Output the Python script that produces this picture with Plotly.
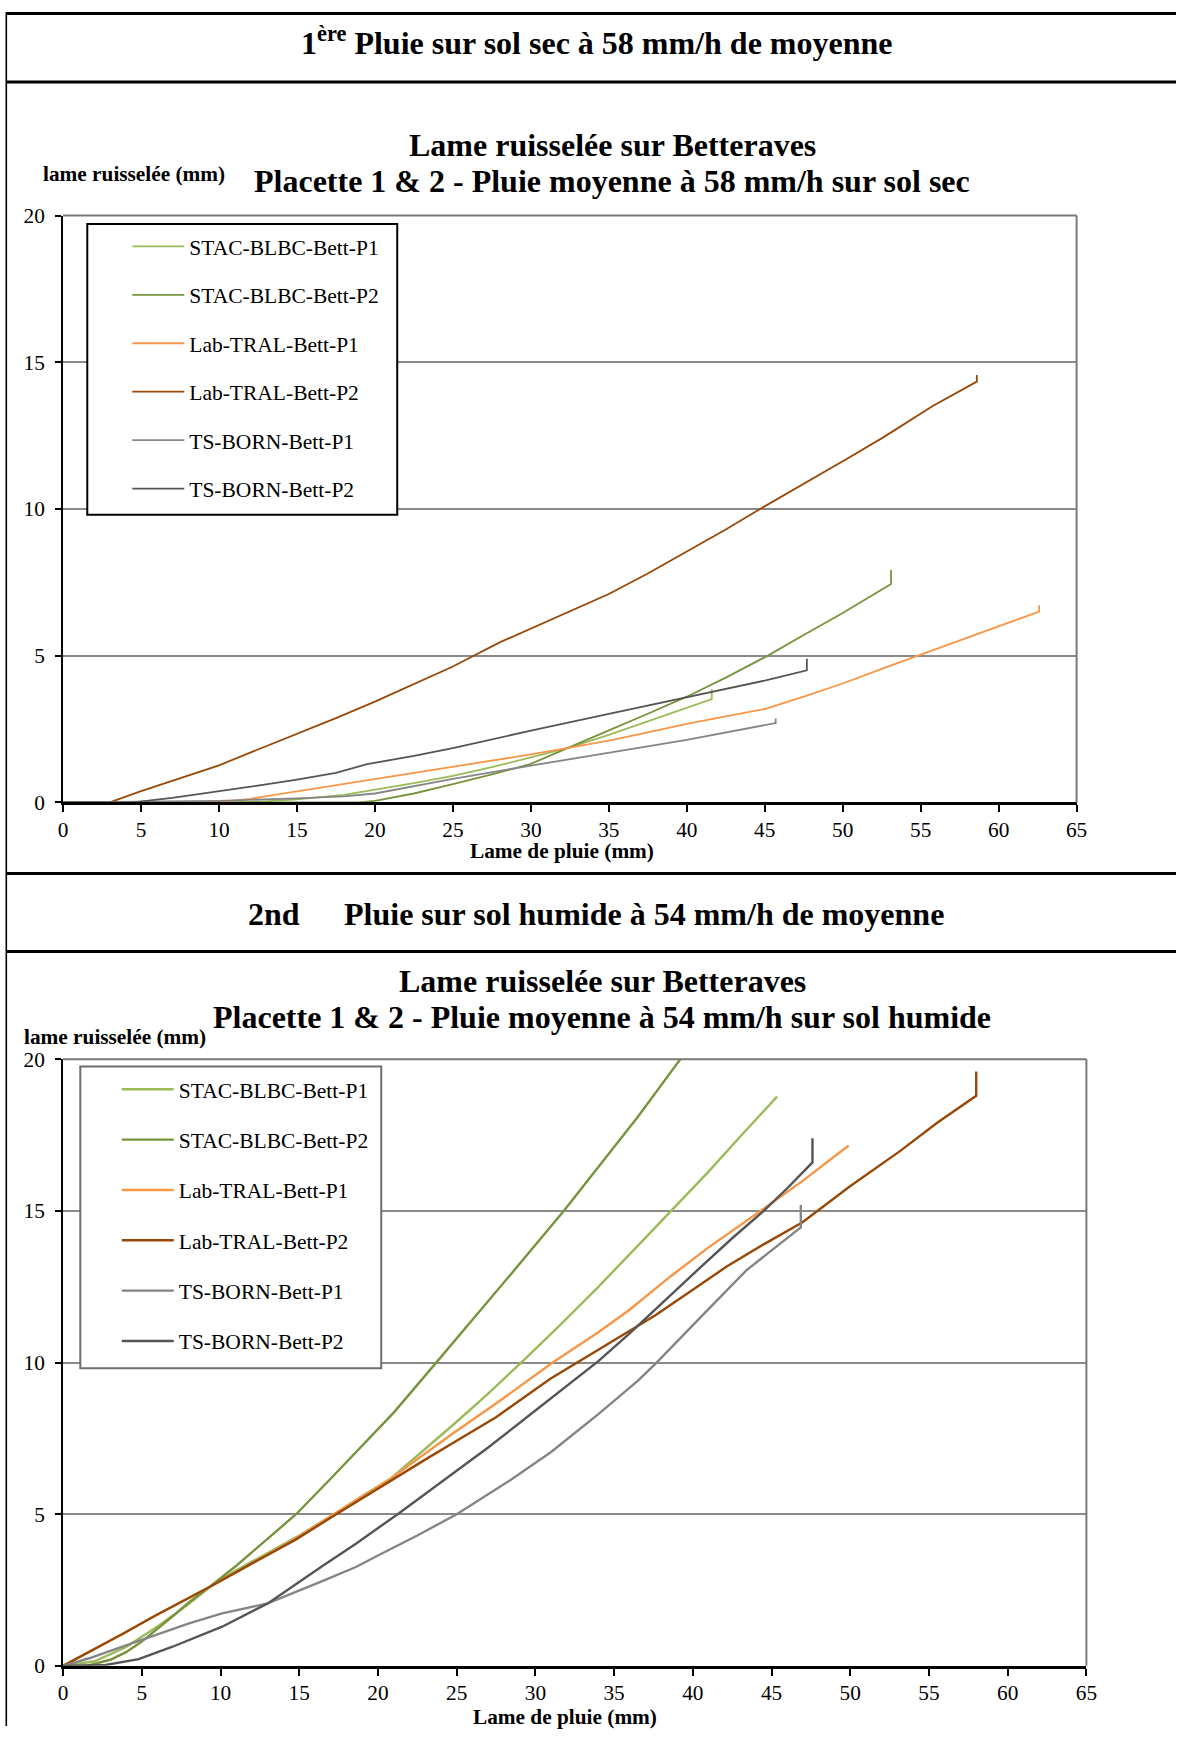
import plotly.graph_objects as go

W, H = 1187, 1738
FONT = "Liberation Serif"
# the photographed page comes out slightly scaled/offset; positions below are given in
# target-picture pixels and converted with this measured transform
S, AX, AY = 0.9867, 4.7, 11.0

# ---------------- Data : 1ère pluie (sol sec) ----------------
names = ["STAC-BLBC-Bett-P1", "STAC-BLBC-Bett-P2", "Lab-TRAL-Bett-P1",
         "Lab-TRAL-Bett-P2", "TS-BORN-Bett-P1", "TS-BORN-Bett-P2"]
colors = ["#9BBB59", "#77933C", "#F79646", "#984807", "#858585", "#555555"]

sec_stac_p1_x = [0, 5, 10, 13, 15, 18, 20, 22.5, 25, 27.5, 30, 32.5, 35, 38, 41.6, 41.6]
sec_stac_p1_y = [0, 0, 0, 0.03, 0.1, 0.25, 0.42, 0.65, 0.9, 1.2, 1.53, 1.87, 2.3, 2.85, 3.52, 3.85]

sec_stac_p2_x = [0, 10, 19, 20, 22.5, 25, 27.5, 30, 32.5, 35, 37.5, 40, 42.5, 45.2, 47.5, 50, 53.1, 53.1]
sec_stac_p2_y = [0, 0, 0, 0.05, 0.3, 0.62, 0.95, 1.31, 1.87, 2.45, 3.02, 3.6, 4.25, 5.0, 5.7, 6.45, 7.44, 7.92]

sec_tral_p1_x = [0, 9.8, 12, 15, 17.5, 20, 22.5, 25, 27.5, 30, 32.5, 35, 37.5, 40, 42.5, 45,
                 47.5, 50, 52.5, 55, 57.5, 60, 62.6, 62.6]
sec_tral_p1_y = [0, 0, 0.12, 0.37, 0.58, 0.79, 1.0, 1.2, 1.42, 1.63, 1.86, 2.1, 2.38, 2.67, 2.93, 3.18,
                 3.6, 4.05, 4.55, 5.03, 5.5, 5.98, 6.5, 6.72]

sec_tral_p2_x = [0, 3, 5, 7.5, 10, 12.5, 15, 17.5, 20, 22.5, 25, 28, 30, 32.5, 35, 37.5, 40,
                 42.5, 44.7, 47.5, 50.25, 52.6, 55.8, 58.6, 58.6]
sec_tral_p2_y = [0, 0, 0.38, 0.82, 1.26, 1.8, 2.33, 2.87, 3.43, 4.02, 4.63, 5.45, 5.92, 6.5, 7.1,
                 7.8, 8.55, 9.3, 10.0, 10.85, 11.7, 12.44, 13.52, 14.34, 14.57]

sec_born_p1_x = [0, 10, 15, 18, 20, 25, 30, 35, 40, 45.7, 45.7]
sec_born_p1_y = [0, 0.05, 0.13, 0.2, 0.3, 0.8, 1.25, 1.68, 2.13, 2.7, 2.86]

sec_born_p2_x = [0, 4.5, 7, 10, 12.5, 15, 17.5, 19.5, 22.5, 25, 27.5, 30, 35, 40, 45, 47.7, 47.7]
sec_born_p2_y = [0, 0, 0.15, 0.37, 0.57, 0.77, 1.0, 1.3, 1.58, 1.85, 2.15, 2.44, 3.01, 3.58, 4.15, 4.5, 4.89]

# ---------------- Data : 2nd pluie (sol humide) ----------------
hum_stac_p1_x = [0, 2, 4, 6, 8, 9.3, 11, 13, 15, 17.2, 19, 20.8, 23, 25, 27, 29.1, 31.5, 34,
                 36.5, 38.55, 41, 43, 45.35]
hum_stac_p1_y = [0, 0.15, 0.62, 1.3, 2.05, 2.6, 3.15, 3.72, 4.3, 5.0, 5.6, 6.17, 7.15, 8.05, 8.98,
                 10.0, 11.2, 12.5, 13.85, 14.96, 16.3, 17.45, 18.77]

hum_stac_p2_x = [0, 1.5, 3, 4, 5, 6, 7, 8, 9.3, 11, 12.25, 14.8, 16.9, 18.6, 21, 23.7, 26, 28.5,
                 31.8, 34, 36.5, 39.2]
hum_stac_p2_y = [0, 0, 0.2, 0.45, 0.8, 1.22, 1.65, 2.1, 2.6, 3.3, 3.85, 5.0, 6.12, 7.05, 8.35, 10.0,
                 11.4, 12.95, 15.0, 16.45, 18.1, 20.0]

hum_tral_p1_x = [0, 1.65, 3.77, 5.9, 8, 9.3, 12, 14.8, 17.2, 18.6, 20.8, 23, 25, 27.5, 31.1, 34,
                 36, 38.6, 41, 44.3, 47, 49.9]
hum_tral_p1_y = [0, 0.45, 1.05, 1.67, 2.25, 2.6, 3.38, 4.2, 5.0, 5.45, 6.17, 7.0, 7.75, 8.65,
                 10.0, 11.0, 11.75, 12.85, 13.8, 15.0, 16.0, 17.16]

hum_tral_p2_x = [0, 1.65, 3.77, 5.9, 8, 9.3, 12, 14.8, 17.2, 18.6, 20.8, 23, 25, 27.5, 30.95,
                 32.8, 35, 37.6, 40, 42.1, 44.5, 46.97, 49.9, 53.2, 55.5, 58.0, 58.0]
hum_tral_p2_y = [0, 0.45, 1.05, 1.67, 2.25, 2.6, 3.38, 4.17, 4.95, 5.4, 6.08, 6.8, 7.42, 8.2,
                 9.47, 10.05, 10.75, 11.55, 12.4, 13.15, 13.9, 14.63, 15.78, 16.99, 17.9, 18.8, 19.6]

hum_born_p1_x = [0, 1.65, 3.77, 5.9, 8, 10.1, 13, 16.5, 18.6, 20, 22.5, 25, 28.4, 31, 34, 36.5,
                 37.7, 40.5, 43.4, 45, 46.86, 46.86]
hum_born_p1_y = [0, 0.25, 0.63, 1.02, 1.4, 1.73, 2.06, 2.8, 3.26, 3.64, 4.3, 5.0, 6.12, 7.05, 8.3,
                 9.4, 10.0, 11.5, 13.04, 13.7, 14.46, 15.2]

hum_born_p2_x = [0, 2.7, 4.8, 6.95, 10.1, 13, 16.5, 18.6, 21.25, 24.2, 27, 30, 32, 34, 36.06,
                 38.55, 40.5, 42.5, 44.5, 46, 47.6, 47.6]
hum_born_p2_y = [0, 0.03, 0.22, 0.63, 1.29, 2.06, 3.3, 4.03, 5.0, 6.12, 7.2, 8.42, 9.22, 10.05,
                 11.0, 12.22, 13.15, 14.1, 15.0, 15.75, 16.6, 17.4]

x_ticks = list(range(0, 70, 5))
y_ticks = [0, 5, 10, 15, 20]

sec_series = [(sec_stac_p1_x, sec_stac_p1_y), (sec_stac_p2_x, sec_stac_p2_y),
              (sec_tral_p1_x, sec_tral_p1_y), (sec_tral_p2_x, sec_tral_p2_y),
              (sec_born_p1_x, sec_born_p1_y), (sec_born_p2_x, sec_born_p2_y)]
hum_series = [(hum_stac_p1_x, hum_stac_p1_y), (hum_stac_p2_x, hum_stac_p2_y),
              (hum_tral_p1_x, hum_tral_p1_y), (hum_tral_p2_x, hum_tral_p2_y),
              (hum_born_p1_x, hum_born_p1_y), (hum_born_p2_x, hum_born_p2_y)]


def PX(r):
    return max(0.0, ((r - AX) / S) / W)


def PY(r):
    return min(1.0, 1 - ((r - AY) / S) / H)


fig = go.Figure()

for i, (xs, ys) in enumerate(sec_series):
    fig.add_trace(go.Scatter(x=xs, y=ys, mode="lines", name=names[i],
                             line=dict(color=colors[i], width=1.8),
                             xaxis="x", yaxis="y", legend="legend",
                             legendgroup="a%d" % i))
for i, (xs, ys) in enumerate(hum_series):
    fig.add_trace(go.Scatter(x=xs, y=ys, mode="lines", name=names[i],
                             line=dict(color=colors[i], width=2.4),
                             xaxis="x2", yaxis="y2", legend="legend2",
                             legendgroup="b%d" % i))

tickfont = dict(family=FONT, size=21.3, color="black")
xcommon = dict(range=[0, 65], tickvals=x_ticks, ticks="outside", ticklen=7, tickwidth=1.5,
               tickcolor="black", showline=True, linecolor="black", linewidth=3,
               showgrid=False, zeroline=False, tickfont=tickfont, ticklabelstandoff=-1)
ycommon = dict(range=[0, 20], tickvals=y_ticks, ticks="outside", ticklen=6, tickwidth=1.5,
               tickcolor="black", showline=True, linecolor="black", linewidth=2,
               showgrid=True, gridcolor="#8a8a8a", gridwidth=1.6, zeroline=False,
               tickfont=tickfont, ticklabelstandoff=6)

legend_common = dict(bgcolor="rgba(0,0,0,0)", borderwidth=0,
                     font=dict(family=FONT, size=21.5, color="black"),
                     xanchor="left", yanchor="top", traceorder="grouped",
                     itemwidth=52, itemclick=False)

fig.update_layout(
    width=W, height=H, autosize=False,
    margin=dict(l=0, r=0, t=0, b=0),
    paper_bgcolor="white", plot_bgcolor="white",
    xaxis=dict(domain=[PX(62.8), PX(1076.5)], anchor="y", **xcommon),
    yaxis=dict(domain=[PY(801.7), PY(214.7)], anchor="x", **ycommon),
    xaxis2=dict(domain=[PX(62.8), PX(1086.3)], anchor="y2", **xcommon),
    yaxis2=dict(domain=[PY(1665.7), PY(1058.9)], anchor="x2", **ycommon),
    legend=dict(x=PX(127), y=PY(225), tracegroupgap=17.5, **legend_common),
    legend2=dict(x=PX(116.5), y=PY(1068.3), tracegroupgap=19.4, **legend_common),
    showlegend=True,
)

shapes = []
# section frame (outer border / separators)
for r in (12.5, 81, 873, 951):
    shapes.append(dict(type="line", xref="paper", yref="paper", x0=PX(6), x1=1,
                       y0=PY(r), y1=PY(r), line=dict(color="black", width=3)))
shapes.append(dict(type="line", xref="paper", yref="paper", x0=PX(6), x1=PX(6),
                   y0=PY(11), y1=0, line=dict(color="black", width=1.6)))
# plot area frames (top & right)
for xa, ya in (("x", "y"), ("x2", "y2")):
    shapes.append(dict(type="line", xref=xa + " domain", yref=ya + " domain", x0=0, x1=1,
                       y0=1, y1=1, line=dict(color="#7a7a7a", width=2), layer="above"))
    shapes.append(dict(type="line", xref=xa + " domain", yref=ya + " domain", x0=1, x1=1,
                       y0=0, y1=1, line=dict(color="#7a7a7a", width=2), layer="above"))
# legend boxes
shapes.append(dict(type="rect", xref="paper", yref="paper", x0=PX(87), x1=PX(397),
                   y0=PY(514), y1=PY(223), fillcolor="white",
                   line=dict(color="black", width=2), layer="above"))
shapes.append(dict(type="rect", xref="paper", yref="paper", x0=PX(80), x1=PX(381),
                   y0=PY(1368), y1=PY(1066), fillcolor="white",
                   line=dict(color="#6e6e6e", width=2), layer="above"))
fig.update_layout(shapes=shapes)


def ann(text, xc, yc, size, bold=True, xanchor="center"):
    t = "<b>%s</b>" % text if bold else text
    return dict(text=t, x=PX(xc), y=PY(yc), xref="paper", yref="paper", showarrow=False,
                xanchor=xanchor, yanchor="middle",
                font=dict(family=FONT, size=size, color="black"))


TS = 32
LS = 21.3
annotations = [
    ann("1<sup>ère</sup> Pluie sur sol sec à 58 mm/h de moyenne", 596, 40, TS),
    ann("Lame ruisselée sur Betteraves", 612, 144, TS),
    ann("Placette 1 &amp; 2 - Pluie moyenne à 58 mm/h sur sol sec", 612, 180.5, TS),
    ann("lame ruisselée (mm)", 134, 172.6, LS),
    ann("Lame de pluie (mm)", 562, 850.6, LS),
    ann("2nd", 274, 913.8, TS),
    ann("Pluie sur sol humide à 54 mm/h de moyenne", 644, 913.8, TS),
    ann("Lame ruisselée sur Betteraves", 602, 981, TS),
    ann("Placette 1 &amp; 2 - Pluie moyenne à 54 mm/h sur sol humide", 602, 1016.6, TS),
    ann("lame ruisselée (mm)", 115, 1036.3, LS),
    ann("Lame de pluie (mm)", 565, 1717.3, LS),
]
fig.update_layout(annotations=annotations)

fig.write_html("out.html")
